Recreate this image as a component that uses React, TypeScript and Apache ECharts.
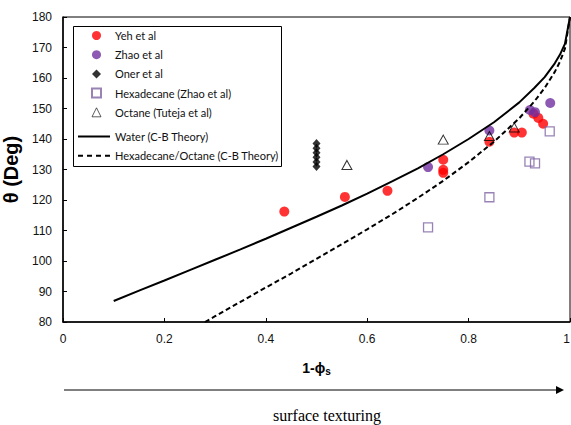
import React, { useEffect, useRef } from "react";
import * as echarts from "echarts";

// 1 - phi_s values and contact angles (deg)
const yehPoints: [number, number][] = [
  [0.4365, 116.2], [0.556, 121.0], [0.64, 123.0], [0.75, 133.2], [0.75, 129.9],
  [0.75, 128.9], [0.841, 139.1], [0.89, 142.1], [0.905, 142.1], [0.928, 148.3],
  [0.9375, 146.9], [0.947, 145.0],
];
const zhaoPoints: [number, number][] = [
  [0.72, 130.8], [0.841, 142.8], [0.921, 149.5], [0.931, 148.8], [0.961, 151.8],
];
const onerX = 0.5;
const onerAngles = [131, 132.5, 134, 135.5, 137, 138.5];
const hexaPoints: [number, number][] = [
  [0.72, 111.0], [0.841, 120.9], [0.92, 132.6], [0.931, 132.0], [0.96, 142.5],
];
const octanePoints: [number, number][] = [
  [0.56, 131.5], [0.75, 139.8], [0.841, 141.0], [0.89, 143.8],
];
const waterX = [0.1, 0.15, 0.2, 0.25, 0.3, 0.35, 0.4, 0.45, 0.5, 0.55, 0.6, 0.65, 0.7, 0.75, 0.8, 0.85, 0.9, 0.93, 0.95, 0.97, 0.98, 0.99, 1.0];
const waterTheta = [86.9, 90.3, 93.6, 97.0, 100.4, 103.8, 107.3, 110.9, 114.5, 118.2, 122.1, 126.2, 130.4, 135.0, 140.0, 145.5, 152.0, 156.8, 160.3, 164.8, 167.6, 171.2, 180];
const hexOctX = [0.28, 0.3, 0.35, 0.4, 0.45, 0.5, 0.55, 0.6, 0.65, 0.7, 0.75, 0.8, 0.85, 0.9, 0.93, 0.95, 0.97, 0.98, 0.99, 1.0];
const hexOctTheta = [80.0, 81.9, 86.6, 91.3, 95.9, 100.7, 105.5, 110.4, 115.4, 120.7, 126.3, 132.4, 139.1, 146.8, 152.4, 156.7, 162.0, 165.3, 169.6, 180];

const seriesNames = [
  "Yeh et al",
  "Zhao et al",
  "Oner et al",
  "Hexadecane (Zhao et al)",
  "Octane (Tuteja et al)",
  "Water (C-B Theory)",
  "Hexadecane/Octane (C-B Theory)",
];

export default function App() {
  const ref = useRef<HTMLDivElement>(null);
  useEffect(() => {
    if (!ref.current) return;
    const chart = echarts.init(ref.current, null, { renderer: "svg" });
    const axisFont = { fontFamily: "Liberation Sans", fontSize: 12, color: "#111" };
    const legendText = { fontFamily: "Lato", fontSize: 11, color: "#111" };
    chart.setOption({
      animation: false,
      backgroundColor: "#fff",
      grid: {
        left: 63, right: 1, top: 17, bottom: 103,
        outerBoundsMode: "none",
        containLabel: false,
        show: true, borderColor: "#000", borderWidth: 1,
      },
      xAxis: {
        type: "value", min: 0, max: 1, interval: 0.2,
        axisLine: { lineStyle: { color: "#000", width: 1.5 } },
        axisTick: { inside: true, length: 4, lineStyle: { color: "#000" } },
        axisLabel: { ...axisFont, margin: 11, alignMaxLabel: "right" },
        splitLine: { show: false },
        name: "1-{p|ϕ}{s|s}",
        nameLocation: "middle",
        nameGap: 38,
        nameTextStyle: {
          fontFamily: "Liberation Sans", fontSize: 14, fontWeight: "bold", color: "#000",
          rich: {
            p: { fontFamily: "Liberation Sans", fontSize: 14, fontWeight: "bold", color: "#000" },
            s: { fontFamily: "Liberation Sans", fontSize: 10, fontWeight: "bold", color: "#000", verticalAlign: "bottom", padding: [6, 0, 0, 0] },
          },
        },
      },
      yAxis: {
        type: "value", min: 80, max: 180, interval: 10,
        axisLine: { show: true, lineStyle: { color: "#000", width: 1.5 } },
        axisTick: { show: true, inside: true, length: 4, lineStyle: { color: "#000" } },
        axisLabel: { ...axisFont, margin: 11 },
        splitLine: { show: false },
        name: "θ (Deg)",
        nameLocation: "middle",
        nameGap: 29,
        nameTextStyle: { fontFamily: "Liberation Sans", fontSize: 20, fontWeight: "bold", color: "#000" },
      },
      legend: [
        {
          orient: "vertical",
          left: 91, top: 30, padding: 0,
          itemWidth: 9, itemHeight: 9, itemGap: 8.2,
          textStyle: { ...legendText, padding: [0, 0, 0, 9] },
          data: [
            { name: seriesNames[0], icon: "circle" },
            { name: seriesNames[1], icon: "circle" },
            { name: seriesNames[2], icon: "diamond" },
            { name: seriesNames[3], icon: "rect" },
            {
              name: seriesNames[4], icon: "triangle",
              itemStyle: { color: "rgba(255,255,255,0)", borderColor: "#000", borderWidth: 0.8 },
            },
          ],
        },
        {
          orient: "vertical",
          left: 78, top: 131, padding: 0,
          itemWidth: 32, itemHeight: 2, itemGap: 8.2,
          textStyle: { ...legendText, padding: [0, 0, 0, 0] },
          data: [
            { name: seriesNames[5], icon: "rect", itemStyle: { color: "#000" } },
            {
              name: seriesNames[6],
              icon: "path://M0,0h5v2h-5z M9,0h5v2h-5z M18,0h5v2h-5z M27,0h5v2h-5z",
              itemStyle: { color: "#000" },
            },
          ],
        },
      ],
      series: [
        {
          name: seriesNames[0], type: "scatter", symbol: "circle", symbolSize: 10,
          itemStyle: { color: "#ff0000" }, data: yehPoints,
        },
        {
          name: seriesNames[1], type: "scatter", symbol: "circle", symbolSize: 10,
          itemStyle: { color: "#7030a0" }, data: zhaoPoints,
        },
        {
          name: seriesNames[2], type: "scatter", symbol: "diamond", symbolSize: [8, 9],
          itemStyle: { color: "#000" }, data: onerAngles.map((t) => [onerX, t]),
        },
        {
          name: seriesNames[3], type: "scatter", symbol: "rect", symbolSize: 9,
          itemStyle: { color: "rgba(255,255,255,0)", borderColor: "#8064a2", borderWidth: 1.3 },
          data: hexaPoints,
        },
        {
          name: seriesNames[4], type: "scatter", symbol: "triangle", symbolSize: [10, 9],
          itemStyle: { color: "rgba(255,255,255,0)", borderColor: "#000", borderWidth: 1 },
          data: octanePoints,
        },
        {
          name: seriesNames[5], type: "line", symbol: "none", showSymbol: false,
          lineStyle: { color: "#000", width: 2 }, itemStyle: { color: "#000" },
          data: waterX.map((x, i) => [x, waterTheta[i]]),
        },
        {
          name: seriesNames[6], type: "line", symbol: "none", showSymbol: false,
          lineStyle: { color: "#000", width: 2, type: [5, 3] }, itemStyle: { color: "#000" },
          data: hexOctX.map((x, i) => [x, hexOctTheta[i]]),
        },
      ],
      graphic: [
        {
          type: "rect", z: -1,
          shape: { x: 73.5, y: 26.5, width: 208, height: 140 },
          style: { fill: "#fff", stroke: "#000", lineWidth: 1 },
        },
        { type: "line", shape: { x1: 64, y1: 390, x2: 558, y2: 390 }, style: { stroke: "#000", lineWidth: 1 } },
        { type: "polygon", shape: { points: [[556, 386], [564, 390], [556, 394]] }, style: { fill: "#000" } },
        {
          type: "text", x: 327, y: 415,
          style: {
            text: "surface texturing", fontFamily: "Liberation Serif", fontSize: 16,
            fill: "#000", align: "center", verticalAlign: "middle",
          },
        },
      ],
    });
    return () => chart.dispose();
  }, []);
  return (
    <div
      ref={ref}
      style={{ position: "fixed", left: 0, top: 0, width: 571, height: 425 }}
    />
  );
}
